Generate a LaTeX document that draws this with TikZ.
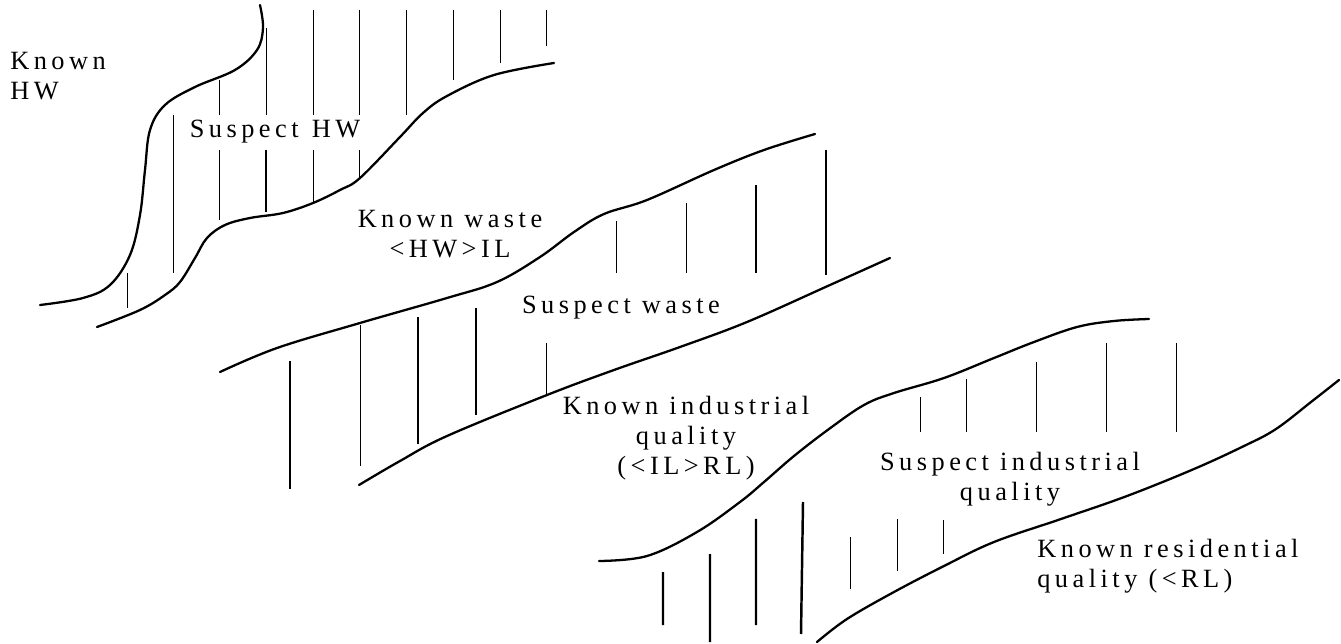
\documentclass[tikz,border=0pt]{standalone}
\usepackage{fontspec}
\setmainfont{Liberation Serif}[LetterSpace=17]
\begin{document}
\begin{tikzpicture}[x=0.02cm, y=-0.02cm,
	zoneline/.style={line width=1.3pt, line cap=round},
	hatch/.style={line width=0.5pt},
	hatchthick/.style={line width=1.4pt},
	zonelabel/.style={inner sep=0pt, align=center, font=\fontsize{15}{17}\selectfont}]
	\useasboundingbox (0,0) rectangle (1341,644);
	
	% zone boundaries
	\draw[zoneline] plot[smooth, tension=0.6] coordinates {(40,305) (83,298) (110,285) (130,255) (140,215) (145,170) (150,130) (165,105) (195,87) (235,70) (257,50) (263,28) (260,5)};
	\draw[zoneline] plot[smooth, tension=0.6] coordinates {(97,327) (140,310) (165,295) (180,282) (195,258) (207,238) (225,225) (250,218) (283,213) (313,203) (340,190) (360,178) (400,137) (423,113) (447,96) (494,75) (554,63)};
	\draw[zoneline] plot[smooth, tension=0.6] coordinates {(220,372) (277,348) (360,323) (447,298) (497,282) (540,257) (574,232) (604,214) (647,200) (714,170) (764,150) (815,134)};
	\draw[zoneline] plot[smooth, tension=0.6] coordinates {(359,485) (400,461) (447,436) (547,395) (614,370) (680,347) (747,322) (830,285) (890,258)};
	\draw[zoneline] plot[smooth, tension=0.6] coordinates {(599,561) (647,556) (697,532) (740,502) (764,482) (794,456) (829,429) (864,405) (894,393) (944,378) (994,358) (1034,342) (1077,327) (1114,321) (1149,319)};
	\draw[zoneline] plot[smooth, tension=0.6] coordinates {(817,642) (847,619) (894,592) (944,566) (994,542) (1061,519) (1127,496) (1194,469) (1244,446) (1276,429) (1311,402) (1339,380)};
	
	% suspect HW
	\draw[hatch] (127,273) -- (127,308) (173,115) -- (173,273)
		(219,80) -- (219,115) (219,150) -- (219,220)
		(266,28) -- (266,115)
		(313,10) -- (313,115) (313,150) -- (313,203)
		(359,10) -- (359,115) (359,150) -- (359,177)
		(406,10) -- (406,115) (453,10) -- (453,80)
		(500,10) -- (500,63) (546,10) -- (546,46);
	\draw[hatchthick] (266,150) -- (266,212);
	
	% suspect waste
	\draw[hatch] (616,221) -- (616,273) (686,203) -- (686,273)
		(360,325) -- (360,466) (546,343) -- (546,395);
	\draw[hatchthick] (756,185) -- (756,273) (826,150) -- (826,275)
		(290,361) -- (290,489) (418,317) -- (418,444) (476,308) -- (476,415);
	
	% suspect industrial quality
	\draw[hatch] (920,397) -- (920,432) (966,379) -- (966,432)
		(1036,362) -- (1036,432) (1106,343) -- (1106,432) (1176,343) -- (1176,432)
		(850,537) -- (850,589) (897,519) -- (897,571) (943,520) -- (943,554);
	\draw[hatchthick] (663,572) -- (663,625) (710,554) -- (710,642)
		(756,519) -- (756,625) (803,502) -- (801,634);
	
	% labels
	\node[zonelabel, anchor=west, align=left] (knownhw) at (10,76) {Known\\HW};
	\node[zonelabel] (suspecthw) at (275,132) {Suspect\enspace HW};
	\node[zonelabel] (knownwaste) at (450,234) {Known waste\\<HW>IL};
	\node[zonelabel] (suspectwaste) at (621,308) {Suspect waste};
	\node[zonelabel] (knownind) at (686,438) {Known industrial\\quality\\(<IL>RL)};
	\node[zonelabel] (suspectind) at (1010,479) {Suspect industrial\\quality};
	\node[zonelabel, anchor=west, align=left] (knownres) at (1037,566) {Known residential\\quality (<RL)};
\end{tikzpicture}
\end{document}
